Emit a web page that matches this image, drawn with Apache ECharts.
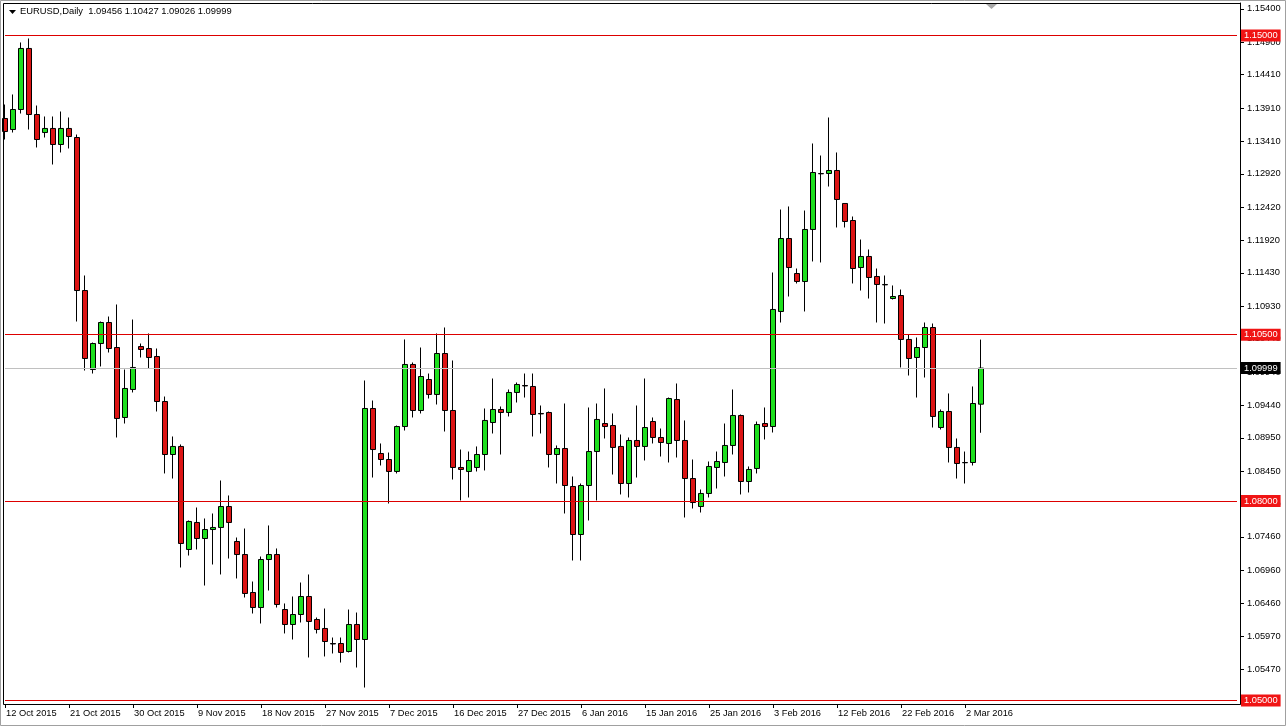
<!DOCTYPE html>
<html><head><meta charset="utf-8">
<script src="https://cdn.jsdelivr.net/npm/echarts@6/dist/echarts.min.js"></script>
<style>html,body{margin:0;padding:0;background:#fff}#c{width:1286px;height:727px}</style>
</head><body><div id="c"></div>
<script>
const symbolName = 'EURUSD,Daily';
const startDate = '2015-10-12';
const holidays = ['2015-12-25', '2016-01-01'];
const opens = [
1.13752,1.13586,1.13887,1.14805,1.13812,1.13541,1.13602,1.13361,1.13602,1.13466,
1.11165,1.09977,1.10368,1.10684,1.10308,1.09256,1.09677,1.10323,1.10293,1.10173,
1.09496,1.08699,1.08820,1.07271,1.07677,1.07436,1.07571,1.07602,1.07917,1.07391,
1.07195,1.06624,1.06398,1.07120,1.07195,1.06368,1.06143,1.06293,1.06564,1.06218,
1.06083,1.05857,1.05857,1.05737,1.06143,1.05917,1.09391,1.08714,1.08624,1.08444,
1.09120,1.10053,1.09361,1.09827,1.09602,1.10218,1.09361,1.08504,1.08444,1.08504,
1.08699,1.09180,1.09376,1.09331,1.09632,1.09737,1.09722,1.09316,1.09331,1.08699,
1.08789,1.08218,1.07496,1.08233,1.08744,1.09165,1.09135,1.08820,1.08263,1.08910,
1.08820,1.09195,1.08955,1.08865,1.09526,1.08910,1.08338,1.07917,1.08113,1.08504,
1.08579,1.08835,1.09286,1.08293,1.08489,1.09165,1.09120,1.10850,1.11947,1.11421,
1.11301,1.12083,1.12925,1.12925,1.12970,1.12474,1.12218,1.11511,1.11677,1.11376,
1.11256,1.11045,1.11090,1.10429,1.10158,1.10308,1.10609,1.09105,1.09346,1.08805,
1.08579,1.08579,1.09456];
const highs = [
1.13962,1.14113,1.14895,1.14955,1.13947,1.13782,1.13782,1.13857,1.13767,1.13511,
1.11391,1.10383,1.10699,1.10774,1.10955,1.09977,1.10729,1.10368,1.10519,1.10293,
1.09571,1.08970,1.08850,1.07707,1.07902,1.07737,1.07812,1.08308,1.08083,1.07451,
1.07586,1.06789,1.07165,1.07632,1.07286,1.06459,1.06564,1.06774,1.06895,1.06248,
1.06383,1.05947,1.05947,1.06368,1.06323,1.09812,1.09511,1.08865,1.08729,1.09135,
1.10429,1.10083,1.10308,1.09917,1.10519,1.10609,1.10113,1.08774,1.08744,1.08820,
1.09391,1.09842,1.09421,1.09677,1.09782,1.09917,1.09917,1.09436,1.09346,1.08835,
1.09466,1.08368,1.08263,1.09406,1.09466,1.09692,1.09316,1.09000,1.08955,1.09436,
1.09842,1.09256,1.09090,1.09556,1.09767,1.09211,1.08624,1.08173,1.08594,1.08744,
1.09165,1.09677,1.09301,1.08519,1.09195,1.09406,1.11436,1.12383,1.12429,1.11496,
1.12368,1.13376,1.13195,1.13767,1.13241,1.12474,1.12278,1.11932,1.11782,1.11496,
1.11391,1.11241,1.11180,1.10504,1.10459,1.10684,1.10669,1.09376,1.09617,1.08940,
1.08744,1.09722,1.10427];
const lows = [
1.13436,1.13541,1.13827,1.13586,1.13316,1.13466,1.13060,1.13241,1.13301,1.10699,
1.09962,1.09917,1.10023,1.10233,1.08955,1.09165,1.09632,1.10158,1.09992,1.09346,
1.08414,1.08338,1.07000,1.07180,1.07271,1.06729,1.07045,1.06895,1.07135,1.06835,
1.06549,1.06308,1.06158,1.06654,1.06398,1.06008,1.05917,1.06173,1.05647,1.06008,
1.05662,1.05707,1.05571,1.05722,1.05496,1.05195,1.08353,1.08534,1.07962,1.08414,
1.09060,1.09256,1.09316,1.09541,1.09451,1.09045,1.08323,1.08008,1.08053,1.08444,
1.08459,1.09015,1.08699,1.09271,1.09481,1.09556,1.08970,1.09015,1.08504,1.08263,
1.07812,1.07105,1.07105,1.07707,1.08008,1.08940,1.08398,1.08098,1.08053,1.08353,
1.08609,1.08865,1.08669,1.08579,1.08654,1.07752,1.07887,1.07827,1.08053,1.08188,
1.08368,1.08699,1.08098,1.08128,1.08414,1.08925,1.09030,1.10684,1.11075,1.11271,
1.10850,1.11602,1.11587,1.12729,1.12113,1.12113,1.11271,1.11165,1.11045,1.10684,
1.10669,1.11030,1.10008,1.09887,1.09556,1.09857,1.09105,1.09075,1.08579,1.08338,
1.08263,1.08534,1.09026];
const closes = [
1.13556,1.13887,1.14805,1.13812,1.13436,1.13602,1.13361,1.13602,1.13481,1.11165,
1.10143,1.10368,1.10684,1.10293,1.09241,1.09692,1.10008,1.10278,1.10158,1.09496,
1.08699,1.08820,1.07361,1.07692,1.07436,1.07571,1.07602,1.07917,1.07677,1.07195,
1.06609,1.06398,1.07120,1.07195,1.06444,1.06143,1.06293,1.06564,1.06188,1.06068,
1.05887,1.05850,1.05722,1.06143,1.05917,1.09391,1.08774,1.08624,1.08444,1.09120,
1.10053,1.09361,1.09872,1.09602,1.10218,1.09361,1.08504,1.08474,1.08609,1.08699,
1.09211,1.09376,1.09331,1.09632,1.09752,1.09730,1.09301,1.09310,1.08699,1.08789,
1.08233,1.07496,1.08233,1.08744,1.09226,1.09120,1.08805,1.08263,1.08910,1.08820,
1.09105,1.08955,1.08880,1.09541,1.08910,1.08338,1.07977,1.08113,1.08519,1.08594,
1.08835,1.09286,1.08293,1.08474,1.09150,1.09120,1.10880,1.11947,1.11511,1.11301,
1.12083,1.12940,1.12920,1.12970,1.12534,1.12203,1.11496,1.11677,1.11361,1.11256,
1.11250,1.11075,1.10429,1.10143,1.10308,1.10609,1.09271,1.09346,1.08805,1.08564,
1.08575,1.09466,1.09999];
const yTicks = [1.15400,1.14900,1.14410,1.13910,1.13410,1.12920,1.12420,1.11920,1.11430,1.10930,1.10440,
  1.09940,1.09440,1.08950,1.08450,1.07950,1.07460,1.06960,1.06460,1.05970,1.05470];
const levelLines = [1.15000, 1.10500, 1.08000, 1.05000];
const yMin = 1.049473, yMax = 1.154887;
const emptySlots = 32;

const MONTHS = ['Jan','Feb','Mar','Apr','May','Jun','Jul','Aug','Sep','Oct','Nov','Dec'];
// trading calendar: Sun..Fri bars, no Saturday, no holidays
const categories = [];
{
  let d = new Date(startDate + 'T00:00:00Z');
  while (categories.length < opens.length) {
    const iso = d.toISOString().slice(0, 10);
    if (d.getUTCDay() !== 6 && holidays.indexOf(iso) < 0) {
      categories.push(d.getUTCDate() + ' ' + MONTHS[d.getUTCMonth()] + ' ' + d.getUTCFullYear());
    }
    d = new Date(d.getTime() + 86400000);
  }
}
const xData = categories.concat(new Array(emptySlots).fill(''));
const candles = opens.map((o, i) => [o, closes[i], lows[i], highs[i]]);
const n = opens.length;
const lastClose = closes[n - 1];
const header = symbolName + '  ' + [opens[n-1], highs[n-1], lows[n-1], closes[n-1]].map(v => v.toFixed(5)).join(' ');

const FONT = "'Liberation Sans',Arial,sans-serif";
const FS = 9.3;
const showLabel = (idx, val) => idx % 8 === 0 && val !== '';

const chart = echarts.init(document.getElementById('c'), null, {renderer: 'canvas'});
const tagLabel = (text, bg) => ({show: true, position: 'end', distance: 4, formatter: () => text,
    backgroundColor: bg, color: '#fff', padding: [2, 3, 1, 3], fontFamily: FONT, fontSize: FS});
const levelData = levelLines.map(v => ({
  yAxis: v,
  lineStyle: {color: '#dd0000', width: 1, type: 'solid'},
  label: tagLabel(v.toFixed(5), '#f01414')
}));
levelData.push({
  yAxis: lastClose,
  lineStyle: {color: '#c0c0c0', width: 1, type: 'solid'},
  label: tagLabel(lastClose.toFixed(5), '#000')
});

chart.setOption({
  animation: false,
  backgroundColor: '#ffffff',
  grid: {left: 5, top: 3, width: 1232, height: 701, show: false},
  xAxis: {
    type: 'category', data: xData, boundaryGap: false,
    axisLine: {show: true, lineStyle: {color: '#000', width: 1}},
    axisTick: {show: true, interval: showLabel, length: 4, lineStyle: {color: '#000'}},
    axisLabel: {show: true, interval: showLabel, align: 'left', margin: 5, padding: [0, 0, 0, 1],
      color: '#000', fontFamily: FONT, fontSize: FS},
    splitLine: {show: false}
  },
  yAxis: {
    type: 'value', position: 'right', offset: 3, min: yMin, max: yMax, scale: true,
    axisLine: {show: true, lineStyle: {color: '#000', width: 1}},
    axisTick: {show: true, customValues: yTicks, length: 4, lineStyle: {color: '#000'}},
    axisLabel: {show: true, customValues: yTicks, formatter: v => v.toFixed(5), margin: 7,
      color: '#000', fontFamily: FONT, fontSize: FS},
    splitLine: {show: false}
  },
  series: [{
    type: 'candlestick',
    data: candles,
    barWidth: 5,
    clip: true,
    itemStyle: {color: '#1ee01e', color0: '#dc1414', borderColor: '#000', borderColor0: '#000', borderWidth: 1},
    markLine: {symbol: ['none', 'none'], silent: true, animation: false, precision: 5, data: levelData}
  }],
  graphic: [
    {type: 'rect', shape: {x: 3.5, y: 3.5, width: 1237, height: 701}, style: {fill: null, stroke: '#000', lineWidth: 1}, silent: true, z: 100},
    {type: 'rect', shape: {x: 0.5, y: 0.5, width: 1285, height: 725}, style: {fill: null, stroke: '#a0a0a0', lineWidth: 1}, silent: true, z: 100},
    {type: 'polygon', shape: {points: [[9, 10], [16, 10], [12.5, 14]]}, style: {fill: '#000'}, z: 100},
    {type: 'text', left: 20, top: 7, style: {text: header, fill: '#000', font: '9.4px ' + FONT}, z: 100},
    {type: 'polygon', shape: {points: [[986, 4], [997, 4], [991.5, 9]]}, style: {fill: '#a8a8a8'}, z: 100}
  ]
});
</script></body></html>
